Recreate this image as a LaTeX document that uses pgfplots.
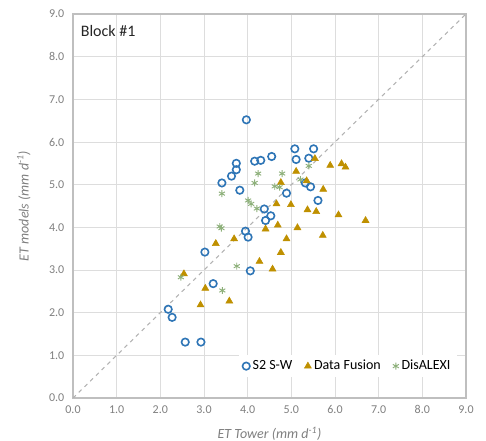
\documentclass[border=0pt]{standalone}
\usepackage{pgfplots}
\pgfplotsset{compat=1.18}
\usepackage{fontspec}
\setmainfont{Carlito}
\definecolor{swblue}{HTML}{2E75B6}
\definecolor{dfgold}{HTML}{BF9000}
\definecolor{dagreen}{HTML}{8DB07A}
\definecolor{gridgrey}{HTML}{DDDDDD}
\definecolor{axisgrey}{HTML}{BFBFBF}
\definecolor{labgrey}{HTML}{7F7F7F}

\begin{document}
\begin{tikzpicture}
\useasboundingbox (-54.75pt,-32.25pt) rectangle (309.75pt,298.5pt);
\begin{axis}[
    scale only axis,
    width=294.75pt,
    height=288pt,
    xmin=0, xmax=9, ymin=0, ymax=9,
    xtick={0,1,...,9}, ytick={0,1,...,9},
    /pgf/number format/.cd, fixed, fixed zerofill, precision=1, assume math mode=true,
    /pgfplots/.cd,
    grid=major,
    major grid style={gridgrey, line width=0.6pt},
    axis line style={axisgrey, line width=0.8pt},
    xtick style={draw=none}, ytick style={draw=none},
    tick label style={font=\fontsize{9}{11}\selectfont, text=labgrey},
    yticklabel style={xshift=-3pt},
    xticklabel style={yshift=-2pt},
    xlabel={\itshape ET Tower (mm d\textsuperscript{-1})},
    ylabel={\itshape ET models (mm d\textsuperscript{-1})},
    label style={font=\fontsize{10.5}{12}\selectfont, text=labgrey},
    xlabel style={yshift=-3pt},
    ylabel style={yshift=7pt},
    legend style={at={(rel axis cs:0.978,0.083)}, anchor=east, draw=none, fill=white,
        font=\fontsize{10.5}{12}\selectfont, legend columns=-1,
        /tikz/every even column/.append style={column sep=7pt}},
    legend cell align=left,
]
\addplot[gray!60, dashed, line width=0.8pt, forget plot] coordinates {(0,0) (9,9)};

\addplot[only marks, mark=o, mark size=2.8pt, swblue, mark options={line width=1.2pt}] coordinates {
(3.97,6.52) (5.08,5.84) (5.51,5.84) (4.55,5.66) (5.11,5.59) (5.40,5.62)
(4.16,5.55) (4.30,5.57) (3.74,5.50) (3.74,5.35) (3.63,5.20) (3.41,5.04)
(3.82,4.87) (4.89,4.80) (5.32,5.04) (5.44,4.95) (5.61,4.63) (4.38,4.43)
(4.53,4.27) (4.41,4.16) (3.95,3.91) (4.01,3.77) (3.02,3.42) (4.06,2.98)
(3.21,2.68) (2.18,2.08) (2.27,1.89) (2.57,1.31) (2.93,1.31)
};
\addlegendentry{S2 S-W}

\addplot[only marks, mark=triangle*, mark size=3pt, dfgold, mark options={draw=dfgold, fill=dfgold}] coordinates {
(5.54,5.61) (5.89,5.45) (6.15,5.49) (6.24,5.41) (5.11,5.31) (4.76,5.05)
(5.35,5.09) (5.73,4.89) (4.66,4.55) (4.99,4.53) (5.37,4.41) (5.57,4.37)
(6.08,4.29) (6.70,4.16) (4.41,3.96) (4.69,4.05) (5.14,3.99) (3.69,3.73)
(4.89,3.73) (5.72,3.81) (3.27,3.62) (4.76,3.41) (4.27,3.20) (4.57,3.02)
(2.54,2.91) (3.03,2.57) (3.58,2.27) (2.92,2.18)
};
\addlegendentry{Data Fusion}

\addplot[only marks, mark=asterisk, mark size=2.6pt, dagreen, mark options={line width=0.7pt}] coordinates {
(5.40,5.44) (4.79,5.26) (4.24,5.26) (4.16,5.04) (4.62,4.96) (4.73,4.94)
(5.21,5.12) (3.41,4.79) (4.01,4.63) (4.08,4.55) (4.21,4.44) (3.36,4.02)
(3.40,3.98) (3.75,3.09) (2.47,2.83) (3.42,2.52)
};
\addlegendentry{DisALEXI}

\node[anchor=west, font=\fontsize{12}{14}\selectfont, text=black!85] at (rel axis cs:0.008,0.955) {Block \#1};
\end{axis}
\end{tikzpicture}
\end{document}
